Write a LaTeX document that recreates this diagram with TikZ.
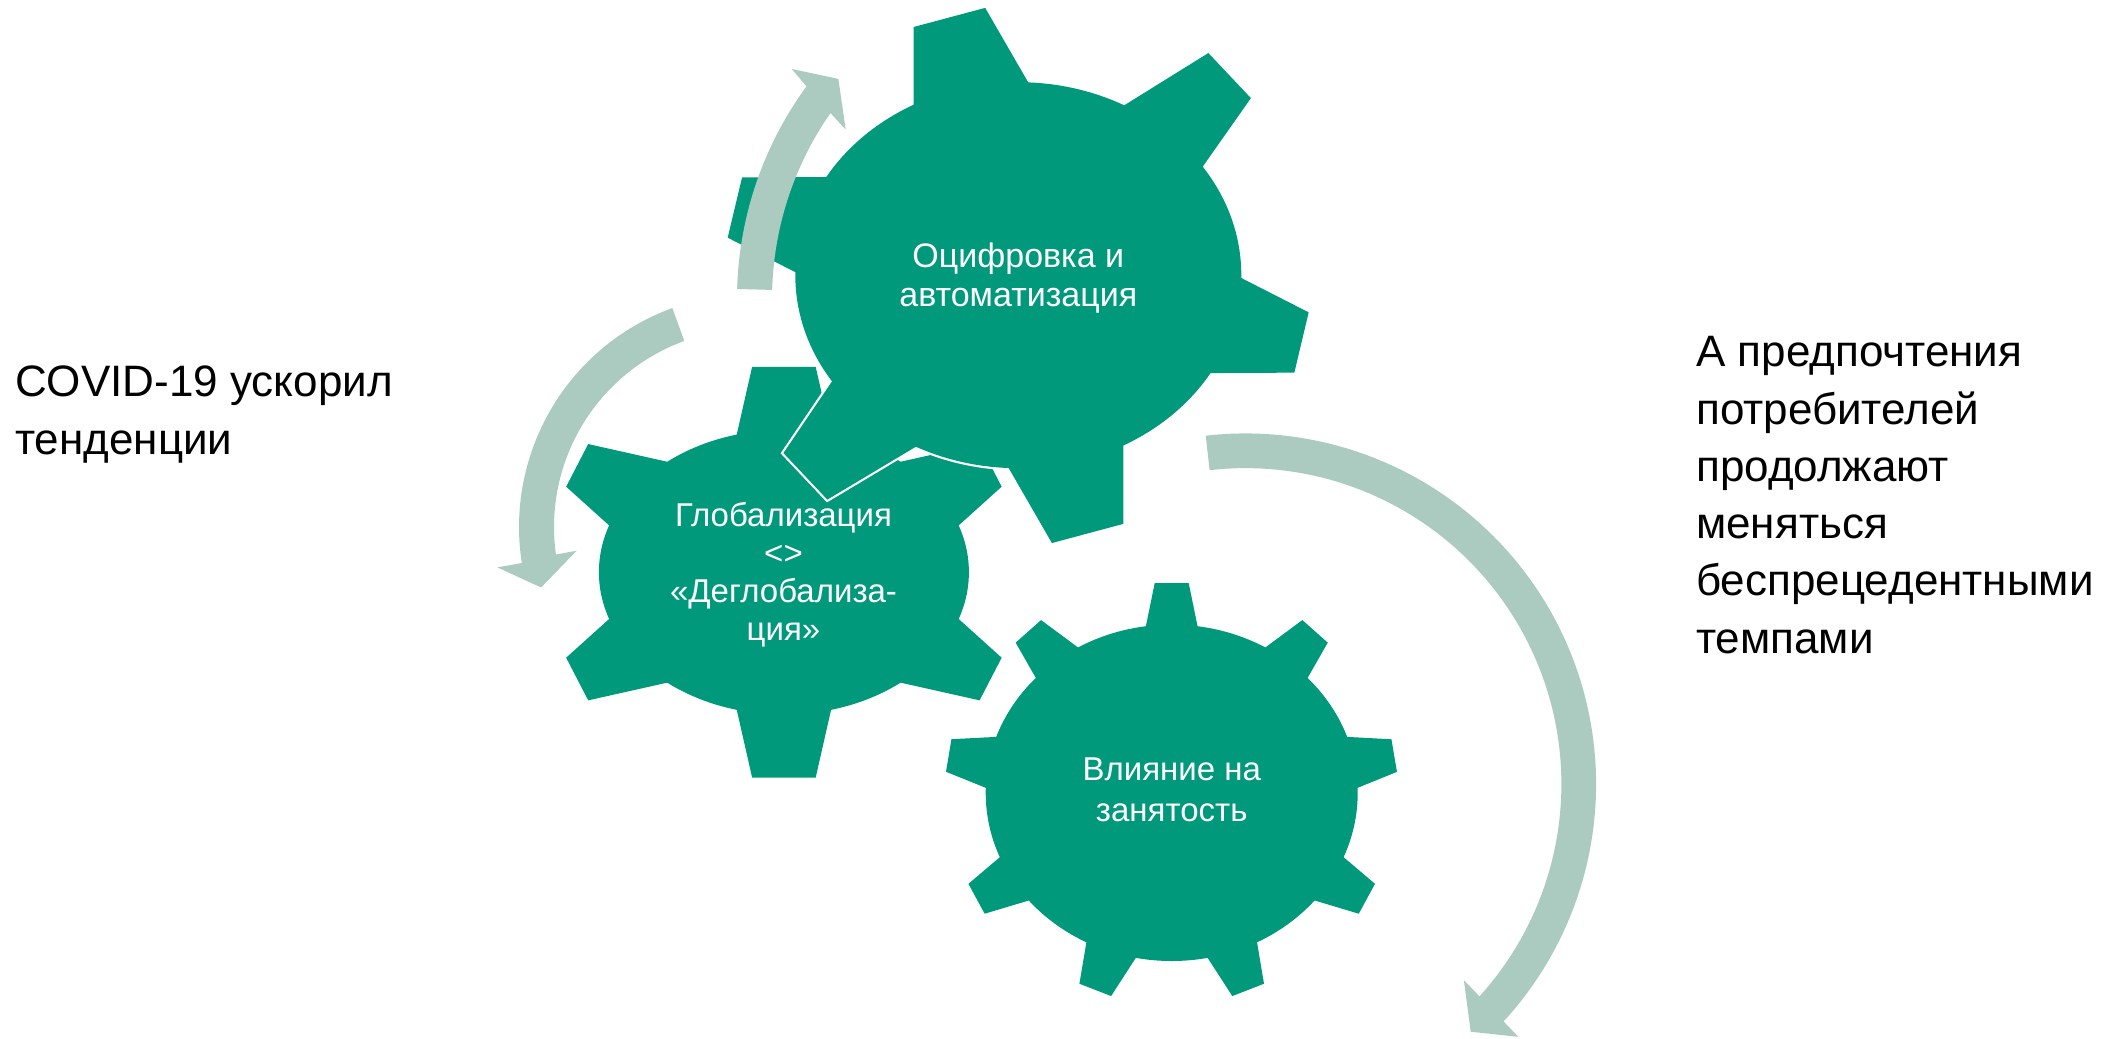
\documentclass[tikz,border=0pt]{standalone}
\usepackage{fontspec}
\setmainfont{Liberation Sans}
\definecolor{gearc}{RGB}{1,153,123}
\definecolor{arrowc}{RGB}{171,203,192}
\newcommand\drawgear[6]{%
  \path[#1] (#2,#3) ellipse [x radius=#4, y radius=#5];
  \foreach \t/\r/\w/\b in {#6} {
    \pgfmathsetmacro\rb{100*(#4/100)*(#5/100)/sqrt(((#5/100)*cos(\t))^2+((#4/100)*sin(\t))^2)}
    \pgfmathsetmacro\rd{\rb-25}
    \pgfmathsetmacro\wd{\b+(\b-\w)*25/(\r-\rb)}
    \path[#1] ({#2+\r*cos(\t)-\w*sin(\t)},{#3-\r*sin(\t)-\w*cos(\t)})
      -- ({#2+\r*cos(\t)+\w*sin(\t)},{#3-\r*sin(\t)+\w*cos(\t)})
      -- ({#2+\rd*cos(\t)+\wd*sin(\t)},{#3-\rd*sin(\t)+\wd*cos(\t)})
      -- ({#2+\rd*cos(\t)-\wd*sin(\t)},{#3-\rd*sin(\t)-\wd*cos(\t)}) -- cycle;
  }%
}
\begin{document}
\begin{tikzpicture}[x=1pt,y=-1pt,
  outertext/.style={anchor=base west, inner sep=0pt, text=black,
    font=\fontsize{44}{57.5}\selectfont},
  geartext/.style={anchor=base, inner sep=0pt, text=white},
  arrowband/.style={fill=arrowc}]
\useasboundingbox (0,0) rectangle (2124,1038);
\clip (0,0) rectangle (2124,1038);
\fill[white] (0,0) rectangle (2124,1038);

% gear 3 (bottom)
\drawgear{fill=gearc}{1171.7}{792.8}{186}{168.2}{90/209.7/17/25.5, 48.4/215.9/17/25.5, 9.5/225.6/16.5/25.5, -28.5/222.1/17/25.5, -68.8/211.4/17/25.5, -111.2/211.4/17/25.5, -151.5/222.1/17/25.5, 170.5/226.1/16.5/25.5, 131.6/215.9/17/25.5}

% gear 2 (left)
\drawgear{fill=gearc}{783.9}{572.2}{185}{142.3}{90/205.3/31.8/46.1, 27.33/232.7/24/39.7, -27.33/232.7/24/39.7, -90/205.3/31.8/46.1, -152.67/232.7/24/39.7, 152.67/232.7/24/39.7}

% gear 1 (top) with white outline
\drawgear{draw=white, line width=4.4pt}{1018.3}{275.2}{223}{193}{104.96/266.8/37/56.4, 43.37/290.7/31/48, -13.37/291.1/31/48, -74.97/267.4/37/56.4, -136.63/292.9/32/51, 166.57/291.4/31/48}
\drawgear{fill=gearc}{1018.3}{275.2}{223}{193}{104.96/266.8/37/56.4, 43.37/290.7/31/48, -13.37/291.1/31/48, -74.97/267.4/37/56.4, -136.63/292.9/32/51, 166.57/291.4/31/48}

% arrow A (top, around gear 1)
\fill[arrowband] plot[domain=178.4:143.8, samples=50] ({1097+360*cos(\x)},{299-360*sin(\x)})
  -- ({1097+382.2*cos(143)},{299-382.2*sin(143)})
  -- ({1097+339.6*cos(139.6)},{299-339.6*sin(139.6)})
  -- ({1097+303.2*cos(146)},{299-303.2*sin(146)})
  -- plot[domain=145.1:178.4, samples=50] ({1097+325*cos(\x)},{299-325*sin(\x)}) -- cycle;

% arrow B (left, around gear 2)
\fill[arrowband] plot[domain=110:188.9, samples=60] ({752+233*cos(\x)},{527-233*sin(\x)})
  -- ({752+257.9*cos(189)},{527-257.9*sin(189)})
  -- ({752+219.4*cos(196)},{527-219.4*sin(196)})
  -- ({752+176.9*cos(187.7)},{527-176.9*sin(187.7)})
  -- plot[domain=188:110, samples=60] ({752+198*cos(\x)},{527-198*sin(\x)}) -- cycle;

% arrow C (right, around gear 3)
\fill[arrowband] plot[domain=96.5:-42.6, samples=90] ({1245.4+350.7*cos(\x)},{784.1-350.7*sin(\x)})
  -- ({1245.4+372*cos(-42.8)},{784.1-372*sin(-42.8)})
  -- ({1245.4+334.8*cos(-47.7)},{784.1-334.8*sin(-47.7)})
  -- ({1245.4+293.5*cos(-41.9)},{784.1-293.5*sin(-41.9)})
  -- plot[domain=-42.2:96.5, samples=90] ({1245.4+316*cos(\x)},{784.1-316*sin(\x)}) -- cycle;

% gear texts
\node[geartext, font=\fontsize{34}{39.4}\selectfont] (g1text) at (1018.3,267.1)
  {\begin{tabular}[t]{@{}c@{}}Оцифровка и\\автоматизация\end{tabular}};
\node[geartext, font=\fontsize{33}{38.3}\selectfont] (g2text) at (783.5,526)
  {\begin{tabular}[t]{@{}c@{}}Глобализация\\<>\\«Деглобализа-\\ция»\end{tabular}};
\node[geartext, font=\fontsize{33}{40.6}\selectfont] (g3text) at (1171.7,780.4)
  {\begin{tabular}[t]{@{}c@{}}Влияние на\\занятость\end{tabular}};

% side texts
\node[outertext] (lefttext) at (15,396.7)
  {\begin{tabular}[t]{@{}l@{}}COVID-19 ускорил\\тенденции\end{tabular}};
\node[outertext, font=\fontsize{44}{57.3}\selectfont] (righttext) at (1696,366.7)
  {\begin{tabular}[t]{@{}l@{}}А предпочтения\\потребителей\\продолжают\\меняться\\беспрецедентными\\темпами\end{tabular}};
\end{tikzpicture}
\end{document}
